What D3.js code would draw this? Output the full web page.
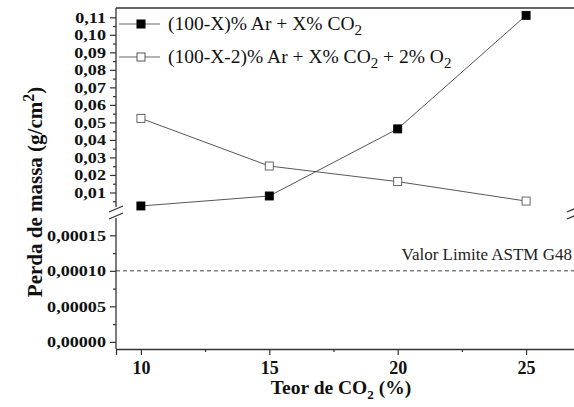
<!DOCTYPE html>
<html><head><meta charset="utf-8">
<script src="https://cdn.jsdelivr.net/npm/d3@7"></script>
<style>body{margin:0;background:#fff}svg{display:block}</style>
</head><body>
<svg id="c" width="574" height="407"></svg>
<script>
const xValues = [10, 15, 20, 25];
const seriesAr = [0.0023, 0.0080, 0.0463, 0.1111];
const seriesArO2 = [0.0523, 0.0251, 0.0162, 0.0051];
const limitValue = 0.0001;
const xTicks = [10, 15, 20, 25];
const upperTicks = [0.01,0.02,0.03,0.04,0.05,0.06,0.07,0.08,0.09,0.10,0.11];
const lowerTicks = [0, 0.00005, 0.0001, 0.00015];
const legendLabels = [["(100-X)% Ar + X% CO", "2", ""], ["(100-X-2)% Ar + X% CO", "2", " + 2% O", "2"]];

const svg = d3.select("#c");
const font = "'Liberation Serif','Times New Roman',serif";
const L = 116, R = 580, T = 8, B = 349;
const x = d3.scaleLinear().domain([9.03, 27.1]).range([L, R]);
const yU = d3.scaleLinear().domain([0, 0.1153]).range([210, T]);
const yL = d3.scaleLinear().domain([-0.00001, 0.00018]).range([B, 214]);
const fmt = (d, n) => d.toFixed(n).replace(".", ",");

// frame
svg.append("line").attr("x1", L).attr("x2", R).attr("y1", T).attr("y2", T).attr("stroke", "#333").attr("stroke-width", 1.3);

// x axis
const gx = svg.append("g").attr("transform", `translate(0,${B})`)
  .call(d3.axisBottom(x).tickValues(xTicks).tickSize(6).tickPadding(6).tickFormat(d => d));
gx.call(g => g.select(".domain").attr("stroke", "#333").attr("stroke-width", 1.3));
gx.selectAll(".tick text").attr("font-size", 18);
svg.append("g").attr("transform", `translate(0,${B})`)
  .call(d3.axisBottom(x).tickValues([12.5, 17.5, 22.5]).tickSize(3).tickFormat(""))
  .call(g => g.select(".domain").remove());

// upper y axis
const gu = svg.append("g").attr("transform", `translate(${L},0)`)
  .call(d3.axisLeft(yU).tickValues(upperTicks).tickSize(6).tickPadding(4).tickFormat(d => fmt(d, 2)));
gu.select(".domain").remove();
svg.append("g").attr("transform", `translate(${L},0)`)
  .call(d3.axisLeft(yU).tickValues(d3.range(0.005, 0.115, 0.01)).tickSize(3).tickFormat(""))
  .call(g => g.select(".domain").remove());
// lower y axis
const gl = svg.append("g").attr("transform", `translate(${L},0)`)
  .call(d3.axisLeft(yL).tickValues(lowerTicks).tickSize(6).tickPadding(4).tickFormat(d => fmt(d, 5)));
gl.select(".domain").remove();
svg.append("g").attr("transform", `translate(${L},0)`)
  .call(d3.axisLeft(yL).tickValues([0.000025, 0.000075, 0.000125]).tickSize(3).tickFormat(""))
  .call(g => g.select(".domain").remove());
svg.selectAll(".tick text")
  .attr("font-family", font).attr("font-weight", "bold").attr("fill", "#111");
[gu, gl].forEach(g => g.selectAll(".tick text")
  .attr("font-size", 15.5).attr("x", 0).attr("transform", "translate(-10,0) scale(1.17,1)"));
svg.selectAll(".tick line").attr("stroke", "#333").attr("stroke-width", 1.2);

// left axis line with break
svg.append("line").attr("x1", L).attr("x2", L).attr("y1", T).attr("y2", 207).attr("stroke", "#333").attr("stroke-width", 1.3);
svg.append("line").attr("x1", L).attr("x2", L).attr("y1", 218).attr("y2", B).attr("stroke", "#333").attr("stroke-width", 1.3);
[209, 216].forEach(by => {
  svg.append("line").attr("x1", L - 7).attr("y1", by + 3).attr("x2", L + 7).attr("y2", by - 3).attr("stroke", "#333").attr("stroke-width", 1.3);
  svg.append("line").attr("x1", 567).attr("y1", by + 3).attr("x2", 581).attr("y2", by - 3).attr("stroke", "#333").attr("stroke-width", 1.3);
});

// limit line
svg.append("line").attr("x1", L).attr("x2", 574).attr("y1", yL(limitValue)).attr("y2", yL(limitValue))
  .attr("stroke", "#444").attr("stroke-width", 1).attr("stroke-dasharray", "4,3");
svg.append("text").attr("x", 572).attr("y", yL(limitValue) - 11).attr("text-anchor", "end")
  .attr("font-family", font).attr("font-size", 17).attr("fill", "#222").text("Valor Limite ASTM G48");

// series
const line = d3.line().x((d, i) => x(xValues[i])).y(d => yU(d));
const series = [{v: seriesAr, fill: "#000"}, {v: seriesArO2, fill: "#fff"}];
series.forEach(s => {
  svg.append("path").attr("d", line(s.v)).attr("fill", "none").attr("stroke", "#444").attr("stroke-width", 0.9);
  svg.selectAll(null).data(s.v).enter().append("rect")
    .attr("x", (d, i) => x(xValues[i]) - 4).attr("y", d => yU(d) - 4)
    .attr("width", 8).attr("height", 8).attr("fill", s.fill).attr("stroke", s.fill === "#000" ? "#000" : "#555").attr("stroke-width", 0.9);
});

// legend
const legY = [24, 57];
series.forEach((s, i) => {
  const ly = legY[i];
  svg.append("line").attr("x1", 119).attr("x2", 160).attr("y1", ly).attr("y2", ly).attr("stroke", "#666").attr("stroke-width", 1);
  svg.append("rect").attr("x", 137).attr("y", ly - 4).attr("width", 8).attr("height", 8).attr("fill", s.fill).attr("stroke", s.fill === "#000" ? "#000" : "#555");
  const t = svg.append("text").attr("x", 168).attr("y", ly + 6).attr("font-family", font).attr("font-size", 19.5).attr("fill", "#111");
  const lab = legendLabels[i];
  t.append("tspan").text(lab[0]);
  t.append("tspan").attr("dy", 5).attr("font-size", 15).text(lab[1]);
  if (lab[2]) t.append("tspan").attr("dy", -5).text(lab[2]);
  if (lab[3]) t.append("tspan").attr("dy", 5).attr("font-size", 15).text(lab[3]);
});

// axis titles
const xt = svg.append("text").attr("x", 341).attr("y", 394).attr("text-anchor", "middle")
  .attr("font-family", font).attr("font-size", 19.5).attr("font-weight", "bold").attr("fill", "#111");
xt.append("tspan").text("Teor de CO");
xt.append("tspan").attr("dy", 5).attr("font-size", 13).text("2");
xt.append("tspan").attr("dy", -5).text(" (%)");

const yt = svg.append("text").attr("transform", "translate(42,192) rotate(-90)").attr("text-anchor", "middle")
  .attr("font-family", font).attr("font-size", 21).attr("font-weight", "bold").attr("fill", "#111");
yt.append("tspan").text("Perda de massa  (g/cm");
yt.append("tspan").attr("dy", -8).attr("font-size", 16).text("2");
yt.append("tspan").attr("dy", 8).text(")");
</script>
</body></html>
